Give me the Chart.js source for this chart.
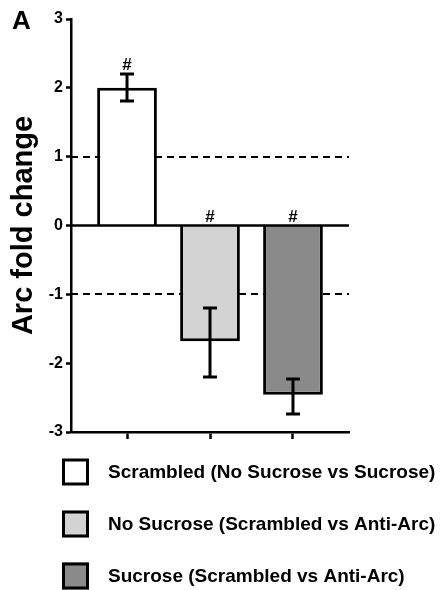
<!DOCTYPE html>
<html>
<head>
<meta charset="utf-8">
<script src="https://cdn.jsdelivr.net/npm/chart.js@4/dist/chart.umd.min.js"></script>
<style>
html,body{margin:0;padding:0;background:#fff;}
#wrap{width:447px;height:590px;position:relative;}
canvas{display:block;}
</style>
</head>
<body>
<div id="wrap"><canvas id="c" width="447" height="590"></canvas></div>
<script>
// ---- data ----
const categories = [
  'Scrambled (No Sucrose vs Sucrose)',
  'No Sucrose (Scrambled vs Anti-Arc)',
  'Sucrose (Scrambled vs Anti-Arc)'
];
const foldChange = [2.0, -1.68, -2.46];
const errLow  = [1.81, -2.2, -2.74];
const errHigh = [2.2, -1.2, -2.23];
const significance = ['#', '#', '#'];
const referenceLines = [1, -1];
const yTickValues = [-3, -2, -1, 0, 1, 2, 3];
const panelLabel = 'A';
const yTitle = 'Arc fold change';
const barColors = ['#ffffff', '#d3d3d3', '#8a8a8a'];

const FONT = '"Liberation Sans", Arial, Helvetica, sans-serif';

const points = categories.map((c, i) => ({ x: i, y: foldChange[i] }));

const annotationPlugin = {
  id: 'annot',
  beforeDatasetsDraw(chart) {
    const { ctx, chartArea, scales: { y } } = chart;
    ctx.save();
    ctx.strokeStyle = '#000';
    ctx.lineWidth = 2;
    ctx.setLineDash([7, 5]);
    referenceLines.forEach(v => {
      const py = Math.round(y.getPixelForValue(v));
      ctx.beginPath();
      ctx.moveTo(chartArea.left, py);
      ctx.lineTo(chartArea.right, py);
      ctx.stroke();
    });
    ctx.restore();
  },
  afterDatasetsDraw(chart) {
    const { ctx, chartArea, scales: { x, y } } = chart;
    ctx.save();
    // zero line
    ctx.strokeStyle = '#000';
    ctx.lineWidth = 2.5;
    const y0 = y.getPixelForValue(0);
    ctx.beginPath();
    ctx.moveTo(chartArea.left, y0);
    ctx.lineTo(chartArea.right, y0);
    ctx.stroke();
    // error bars
    ctx.lineWidth = 3;
    categories.forEach((c, i) => {
      const px = x.getPixelForValue(i);
      const lo = y.getPixelForValue(errLow[i]);
      const hi = y.getPixelForValue(errHigh[i]);
      ctx.beginPath();
      ctx.moveTo(px, lo); ctx.lineTo(px, hi);
      ctx.moveTo(px - 7, lo); ctx.lineTo(px + 7, lo);
      ctx.moveTo(px - 7, hi); ctx.lineTo(px + 7, hi);
      ctx.stroke();
    });
    // significance marks
    ctx.fillStyle = '#000';
    ctx.font = 'bold 17px ' + FONT;
    ctx.textAlign = 'center';
    ctx.textBaseline = 'alphabetic';
    categories.forEach((c, i) => {
      const px = x.getPixelForValue(i);
      const anchor = Math.max(0, errHigh[i]);
      const py = y.getPixelForValue(anchor) - 4;
      ctx.fillText(significance[i], px, py);
    });
    ctx.restore();
  },
  afterDraw(chart) {
    const { ctx } = chart;
    ctx.save();
    ctx.fillStyle = '#000';
    ctx.font = 'bold 26px ' + FONT;
    ctx.textAlign = 'left';
    ctx.textBaseline = 'alphabetic';
    ctx.fillText(panelLabel, 12, 29);
    // legend
    ctx.font = 'bold 19px ' + FONT;
    ctx.textBaseline = 'middle';
    categories.forEach((c, i) => {
      const cy = 472 + i * 52;
      ctx.fillStyle = barColors[i];
      ctx.fillRect(62, cy - 13.5, 27, 27);
      ctx.strokeStyle = '#000';
      ctx.lineWidth = 3;
      ctx.strokeRect(63.5, cy - 12, 24, 24);
      ctx.fillStyle = '#000';
      ctx.fillText(c, 108, cy + 1);
    });
    ctx.restore();
  }
};

new Chart(document.getElementById('c'), {
  type: 'bar',
  data: {
    datasets: [{
      data: points,
      backgroundColor: barColors,
      borderColor: '#000',
      borderWidth: 3,
      borderSkipped: 'start'
    }]
  },
  options: {
    responsive: false,
    animation: false,
    devicePixelRatio: 1,
    layout: { padding: { top: 19, right: 98, bottom: 0, left: 0 } },
    plugins: { legend: { display: false }, tooltip: { enabled: false } },
    scales: {
      x: {
        type: 'linear',
        position: 'bottom',
        min: -0.675,
        max: 2.675,
        offset: false,
        afterBuildTicks: s => { s.ticks = categories.map((c, i) => ({ value: i })); },
        afterFit: s => { s.height = 158; },
        grid: { display: true, offset: false, drawOnChartArea: false, drawTicks: true, tickLength: 7, tickWidth: 2.5, tickColor: '#000' },
        border: { display: true, color: '#000', width: 2.5 },
        ticks: { callback: () => '', font: { size: 1 } }
      },
      y: {
        min: -3,
        max: 3,
        afterBuildTicks: s => { s.ticks = yTickValues.map(v => ({ value: v })); },
        afterFit: s => { s.width = 71; },
        grid: { display: true, drawOnChartArea: false, drawTicks: true, tickLength: 5, tickWidth: 2.5, tickColor: '#000' },
        border: { display: true, color: '#000', width: 2.5 },
        ticks: { color: '#000', padding: 3, font: { family: FONT, size: 16, weight: 'bold' }, callback: v => String(v) },
        title: { display: true, text: yTitle, color: '#000', font: { family: FONT, size: 29, weight: 'bold' }, padding: { top: 7, bottom: 0 } }
      }
    }
  },
  plugins: [annotationPlugin]
});
</script>
</body>
</html>
